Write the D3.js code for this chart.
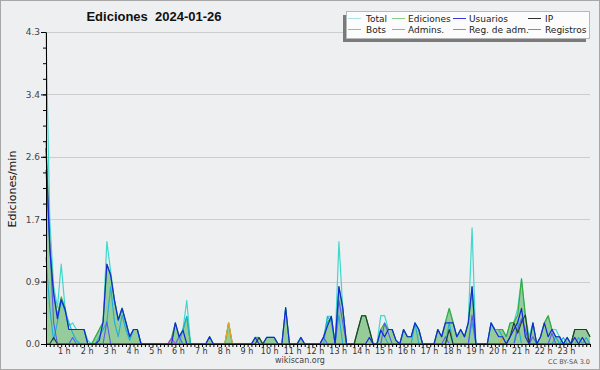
<!DOCTYPE html>
<html>
<head>
<meta charset="utf-8">
<script src="https://cdnjs.cloudflare.com/ajax/libs/d3/7.8.5/d3.min.js"></script>
<style>
body { margin: 0; background: #fff; }
</style>
</head>
<body>
<div id="chart"></div>
<script>
// 10-minute bins, 144 per day, rows of 12 = 2 hours
const total = [
  4.3, 1.7, 0.8, 0.5, 1.1, 0.5, 0.25, 0.29, 0.2, 0.2, 0.2, 0.05,
  0, 0.1, 0.2, 0.3, 1.41, 1.0, 0.6, 0.35, 0.5, 0.3, 0.1, 0.2,
  0.2, 0, 0, 0, 0, 0, 0, 0, 0, 0.08, 0.29, 0.1,
  0.2, 0.6, 0, 0, 0, 0, 0, 0.1, 0, 0, 0, 0,
  0.29, 0, 0, 0, 0, 0, 0, 0.09, 0.09, 0, 0.09, 0.09,
  0.09, 0, 0, 0.5, 0, 0, 0, 0.09, 0, 0, 0, 0,
  0, 0.1, 0.38, 0.38, 0, 1.41, 0.5, 0, 0, 0, 0.2, 0.39,
  0.39, 0.2, 0, 0, 0.39, 0.39, 0.2, 0.2, 0.05, 0, 0.2, 0.1,
  0.1, 0.29, 0.2, 0, 0, 0, 0, 0.2, 0.1, 0.3, 0.49, 0.3,
  0.1, 0.2, 0.1, 0.29, 1.6, 0, 0, 0, 0, 0.29, 0.2, 0.2,
  0.2, 0.1, 0.29, 0.3, 0.49, 0.9, 0.4, 0.1, 0.29, 0, 0.1, 0.29,
  0.39, 0.2, 0.2, 0.1, 0, 0.09, 0, 0.2, 0.2, 0.2, 0.2, 0.1
];
const ediciones = [
  2.8, 1.4, 0.7, 0.4, 0.65, 0.5, 0.2, 0.2, 0.2, 0.2, 0.2, 0,
  0, 0.1, 0.2, 0.3, 1.1, 0.95, 0.6, 0.33, 0.49, 0.3, 0.1, 0.2,
  0.2, 0, 0, 0, 0, 0, 0, 0, 0, 0.08, 0.29, 0.1,
  0.19, 0.38, 0, 0, 0, 0, 0, 0.1, 0, 0, 0, 0,
  0.29, 0, 0, 0, 0, 0, 0, 0.09, 0.09, 0, 0.09, 0.09,
  0.09, 0, 0, 0.5, 0, 0, 0, 0.09, 0, 0, 0, 0,
  0, 0.1, 0.3, 0.38, 0, 0.79, 0.5, 0, 0, 0, 0.2, 0.39,
  0.39, 0.2, 0, 0, 0.2, 0.29, 0.2, 0.2, 0.05, 0, 0.2, 0.1,
  0.1, 0.29, 0.2, 0, 0, 0, 0, 0.2, 0.1, 0.3, 0.49, 0.3,
  0.1, 0.2, 0.1, 0.29, 0.79, 0, 0, 0, 0, 0.29, 0.2, 0.2,
  0.2, 0.1, 0.29, 0.3, 0.4, 0.9, 0.4, 0, 0.29, 0, 0.1, 0.29,
  0.39, 0.2, 0.1, 0.1, 0, 0.09, 0, 0.2, 0.2, 0.2, 0.2, 0.1
];
const usuarios = [
  2.7, 1.3, 0.7, 0.35, 0.61, 0.48, 0.2, 0.2, 0.2, 0.2, 0.2, 0,
  0, 0, 0.05, 0.3, 1.1, 0.95, 0.6, 0.33, 0.49, 0.3, 0.1, 0.2,
  0.2, 0, 0, 0, 0, 0, 0, 0, 0, 0, 0.29, 0.1,
  0.19, 0, 0, 0, 0, 0, 0, 0.1, 0, 0, 0, 0,
  0, 0, 0, 0, 0, 0, 0, 0.09, 0, 0, 0.09, 0.09,
  0.09, 0, 0, 0.5, 0, 0, 0, 0.09, 0, 0, 0, 0,
  0, 0.1, 0.25, 0.38, 0, 0.79, 0.5, 0, 0, 0, 0, 0,
  0, 0.09, 0, 0, 0.19, 0.1, 0.2, 0.2, 0.05, 0, 0.2, 0.1,
  0.1, 0.29, 0.2, 0, 0, 0, 0, 0.2, 0.1, 0.29, 0.29, 0.29,
  0.1, 0.2, 0.1, 0.29, 0.79, 0, 0, 0, 0, 0.29, 0.19, 0.1,
  0.1, 0, 0.1, 0.2, 0.3, 0.49, 0.1, 0, 0.29, 0, 0.1, 0.29,
  0.1, 0.2, 0.1, 0.1, 0, 0.09, 0, 0.09, 0, 0.09, 0, 0
];
const ip = [
  0, 0, 0.09, 0, 0, 0, 0, 0, 0, 0, 0, 0,
  0, 0, 0, 0, 0, 0, 0, 0, 0, 0, 0, 0,
  0, 0, 0, 0, 0, 0, 0, 0, 0, 0, 0, 0,
  0, 0, 0, 0, 0, 0, 0, 0, 0, 0, 0, 0,
  0, 0, 0, 0, 0, 0, 0, 0, 0.09, 0, 0, 0,
  0, 0, 0, 0, 0, 0, 0, 0, 0, 0, 0, 0,
  0, 0, 0, 0, 0, 0, 0, 0, 0, 0, 0.2, 0.39,
  0.39, 0.2, 0, 0, 0, 0, 0, 0, 0, 0, 0, 0,
  0, 0, 0, 0, 0, 0, 0, 0, 0, 0, 0.2, 0,
  0, 0, 0, 0, 0, 0, 0, 0, 0, 0, 0, 0,
  0, 0, 0.1, 0.29, 0.15, 0.3, 0.4, 0, 0, 0, 0, 0,
  0, 0, 0, 0, 0, 0, 0, 0.2, 0.2, 0.2, 0.2, 0.1
];
const bots = [
  0, 0, 0, 0, 0, 0, 0, 0, 0, 0, 0, 0,
  0, 0, 0, 0, 0, 0, 0, 0, 0, 0, 0, 0,
  0, 0, 0, 0, 0, 0, 0, 0, 0, 0, 0, 0,
  0, 0, 0, 0, 0, 0, 0, 0, 0, 0, 0, 0,
  0.29, 0, 0, 0, 0, 0, 0, 0, 0, 0, 0, 0,
  0, 0, 0, 0, 0, 0, 0, 0, 0, 0, 0, 0,
  0, 0, 0, 0, 0, 0, 0, 0, 0, 0, 0, 0,
  0, 0, 0, 0, 0, 0, 0, 0, 0, 0, 0, 0,
  0, 0, 0, 0, 0, 0, 0, 0, 0, 0, 0, 0,
  0, 0, 0, 0, 0, 0, 0, 0, 0, 0, 0, 0,
  0.08, 0, 0, 0, 0, 0, 0, 0, 0, 0, 0, 0,
  0, 0, 0, 0, 0, 0, 0, 0, 0, 0, 0, 0
];
const admins = [
  1.2, 0.49, 0.05, 0.3, 0.6, 0.45, 0.3, 0.15, 0.05, 0, 0, 0,
  0, 0, 0.1, 0.2, 0.3, 0.79, 0.3, 0.1, 0.4, 0.2, 0.05, 0.2,
  0.2, 0, 0, 0, 0, 0, 0, 0, 0, 0, 0, 0,
  0.2, 0.38, 0, 0, 0, 0, 0, 0, 0, 0, 0, 0,
  0, 0, 0, 0, 0, 0, 0, 0, 0, 0, 0, 0,
  0, 0, 0, 0, 0, 0, 0, 0, 0, 0, 0, 0,
  0, 0, 0.38, 0.3, 0, 0.4, 0, 0, 0, 0, 0, 0,
  0, 0, 0, 0, 0.2, 0.1, 0, 0, 0, 0, 0, 0,
  0, 0.29, 0, 0, 0, 0, 0, 0, 0, 0, 0.3, 0,
  0, 0, 0, 0, 0.3, 0, 0, 0, 0, 0.29, 0.2, 0.2,
  0.1, 0, 0, 0, 0.3, 0, 0, 0, 0, 0, 0, 0,
  0, 0, 0.1, 0, 0.09, 0, 0, 0, 0.09, 0, 0.09, 0
];
const regAdm = [
  0, 0, 0, 0, 0, 0, 0, 0, 0, 0, 0, 0,
  0, 0, 0, 0, 0, 0, 0, 0, 0, 0, 0, 0,
  0, 0, 0, 0, 0, 0, 0, 0, 0, 0.08, 0, 0,
  0, 0, 0, 0, 0, 0, 0, 0, 0, 0, 0, 0,
  0, 0, 0, 0, 0, 0, 0, 0, 0, 0, 0, 0,
  0, 0, 0, 0, 0, 0, 0, 0, 0, 0, 0, 0,
  0, 0, 0, 0, 0, 0, 0, 0, 0, 0, 0, 0,
  0, 0, 0, 0, 0, 0, 0, 0, 0, 0, 0, 0,
  0, 0, 0, 0, 0, 0, 0, 0, 0, 0, 0, 0,
  0, 0, 0, 0, 0, 0, 0, 0, 0, 0, 0, 0,
  0, 0, 0, 0, 0, 0, 0, 0, 0, 0, 0, 0,
  0, 0, 0, 0, 0, 0, 0, 0, 0, 0, 0, 0
];
const registros = [
  2.4, 1.4, 0.3, 0, 0, 0, 0, 0.09, 0, 0, 0, 0,
  0, 0, 0, 0, 0.31, 0, 0, 0, 0, 0, 0, 0,
  0, 0, 0, 0, 0, 0, 0, 0, 0, 0, 0, 0.1,
  0, 0, 0, 0, 0, 0, 0, 0, 0, 0, 0, 0,
  0, 0, 0, 0, 0, 0, 0, 0, 0, 0, 0, 0,
  0, 0, 0, 0, 0, 0, 0, 0, 0, 0, 0, 0,
  0, 0.09, 0, 0, 0, 0.6, 0.3, 0, 0, 0, 0, 0,
  0, 0, 0, 0, 0, 0.29, 0.15, 0, 0, 0, 0, 0,
  0, 0, 0, 0, 0, 0, 0, 0, 0, 0.1, 0, 0,
  0, 0, 0, 0, 0.4, 0, 0, 0, 0, 0, 0, 0,
  0, 0, 0, 0, 0.2, 0.35, 0.2, 0, 0.1, 0, 0, 0,
  0, 0.15, 0, 0, 0, 0, 0, 0, 0, 0, 0, 0
];

const yTicks = [0, 0.86, 1.72, 2.58, 3.44, 4.3];
const legendNames = [["Total", "Ediciones", "Usuarios", "IP"],
                     ["Bots", "Admins.", "Reg. de adm.", "Registros"]];
const legendColors = [["#a8e4e4", "#88d088", "#3838e0", "#303030"],
                      ["#f0a040", "#48c8d8", "#d060e0", "#8080f0"]];

const W = 600, H = 370;
const plot = { left: 46, right: 590, top: 32, bottom: 344 };

const svg = d3.select("#chart").append("svg")
    .attr("width", W)
    .attr("height", H)
    .style("display", "block");

// background + outer border
svg.append("rect")
    .attr("x", 0.5).attr("y", 0.5)
    .attr("width", W - 1).attr("height", H - 1)
    .attr("fill", "#eeeff1")
    .attr("stroke", "#a8a8a8");

const x = d3.scaleLinear().domain([0, 143]).range([plot.left, plot.right]);
const y = d3.scaleLinear().domain([0, 4.3]).range([plot.bottom, plot.top]);

// horizontal grid
svg.append("g").selectAll("line")
    .data(yTicks.slice(1))
    .join("line")
    .attr("x1", plot.left).attr("x2", plot.right)
    .attr("y1", d => Math.round(y(d)) + 0.5).attr("y2", d => Math.round(y(d)) + 0.5)
    .attr("stroke", "#cdcdcd");

const line = d3.line().x((d, i) => x(i)).y(d => y(d));
const area = d3.area().x((d, i) => x(i)).y0(y(0)).y1(d => y(d));

// series lines, back to front
function drawLine(values, color, width) {
  svg.append("path")
      .datum(values)
      .attr("d", line)
      .attr("fill", "none")
      .attr("stroke", color)
      .attr("stroke-width", width)
      .attr("stroke-linejoin", "round");
}

drawLine(total, "#3fd8cc", 1.2);
svg.append("path")
    .datum(ediciones)
    .attr("d", area)
    .attr("fill", "#4caf50")
    .attr("fill-opacity", 0.55);
drawLine(ediciones, "#3aa83a", 1.1);
drawLine(admins, "#1cb0d8", 1.1);
drawLine(registros, "#5a5af0", 1.1);
drawLine(regAdm, "#c040e0", 1.1);
drawLine(bots, "#f0a020", 1.2);
drawLine(ip, "#26382a", 1.1);
drawLine(usuarios, "#1428d8", 1.2);

// y axis
const yAxis = svg.append("g")
    .attr("transform", "translate(" + plot.left + ",0)")
    .call(d3.axisLeft(y).tickValues(yTicks).tickFormat(d3.format(".1f"))
        .tickSize(5).tickSizeOuter(0).tickPadding(1))
    .attr("font-family", "DejaVu Sans")
    .attr("font-size", 9);
yAxis.selectAll("text").attr("fill", "#444");
yAxis.selectAll("line, path").attr("stroke", "#000");

svg.append("g")
    .attr("transform", "translate(" + plot.left + ",0)")
    .call(d3.axisLeft(y).tickValues(d3.range(0, 4.3, 0.215)).tickFormat("").tickSize(3).tickSizeOuter(0))
    .call(g => g.select(".domain").remove())
    .selectAll("line").attr("stroke", "#000");

// x axis: one tick per 10 minutes
svg.append("g")
    .attr("transform", "translate(0," + plot.bottom + ")")
    .call(d3.axisBottom(x).tickValues(d3.range(0, 144)).tickFormat("").tickSize(3).tickSizeOuter(0))
    .selectAll("line, path").attr("stroke", "#000");

// hour labels
svg.append("g")
    .attr("transform", "translate(-5," + plot.bottom + ")")
    .call(d3.axisBottom(x).tickValues(d3.range(6, 144, 6)).tickFormat(d => (d / 6) + " h").tickSize(0).tickPadding(4))
    .attr("font-family", "DejaVu Sans")
    .attr("font-size", 8)
    .call(g => g.select(".domain").remove())
    .selectAll("text").attr("fill", "#333");

// title
svg.append("text")
    .attr("x", 154).attr("y", 21)
    .attr("text-anchor", "middle")
    .style("font-family", "Liberation Sans, Arial, sans-serif")
    .style("font-size", "13px")
    .style("font-weight", "bold")
    .style("fill", "#111")
    .style("white-space", "pre")
    .text("Ediciones  2024-01-26");

// y label
svg.append("text")
    .attr("transform", "translate(16,189) rotate(-90)")
    .attr("text-anchor", "middle")
    .style("font-family", "DejaVu Sans")
    .style("font-size", "11px")
    .style("fill", "#111")
    .text("Ediciones/min");

// footer
svg.append("text")
    .attr("x", 300).attr("y", 363)
    .attr("text-anchor", "middle")
    .style("font-family", "DejaVu Sans")
    .style("font-size", "8px")
    .style("fill", "#444")
    .text("wikiscan.org");

svg.append("text")
    .attr("x", 590).attr("y", 364)
    .attr("text-anchor", "end")
    .style("font-family", "DejaVu Sans")
    .style("font-size", "6.5px")
    .style("fill", "#555")
    .text("CC BY-SA 3.0");

// legend
const legend = svg.append("g");
legend.append("rect")
    .attr("x", 343).attr("y", 15)
    .attr("width", 243).attr("height", 27)
    .attr("fill", "#7a7a7a");
legend.append("rect")
    .attr("x", 346.5).attr("y", 11.5)
    .attr("width", 243).attr("height", 27)
    .attr("fill", "#fcfcfc")
    .attr("stroke", "#b8b8b8");

const colLine = [348, 392, 453, 528];
const colText = [366, 408, 469, 545];
const rowY = [18.5, 29.5];
legendNames.forEach((row, r) => {
  row.forEach((name, c) => {
    legend.append("line")
        .attr("x1", colLine[c]).attr("x2", colLine[c] + 13)
        .attr("y1", rowY[r]).attr("y2", rowY[r])
        .attr("stroke", legendColors[r][c])
        .attr("stroke-width", 1);
    legend.append("text")
        .attr("x", colText[c]).attr("y", rowY[r] + 3.5)
        .style("font-family", "DejaVu Sans")
        .style("font-size", "9px")
        .style("fill", "#222")
        .text(name);
  });
});
</script>
</body>
</html>
